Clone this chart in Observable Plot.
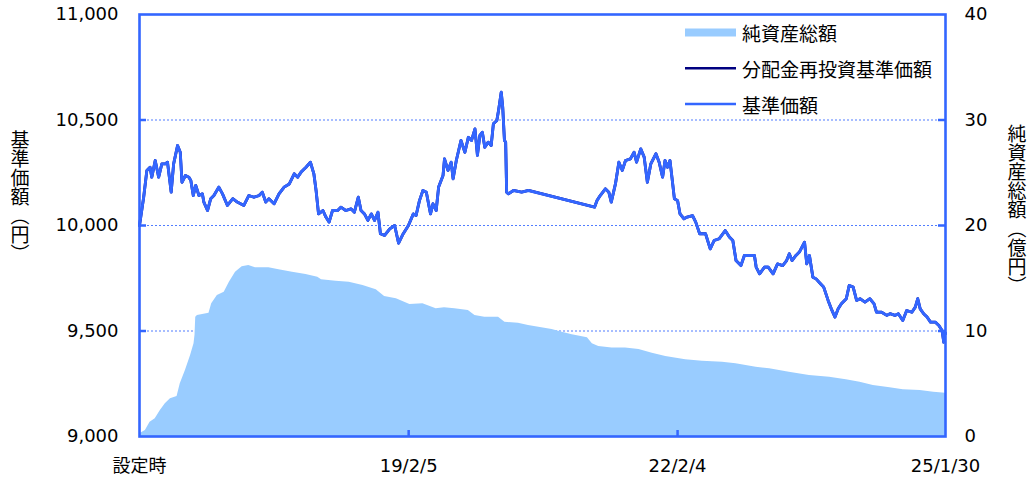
<!DOCTYPE html>
<html>
<head>
<meta charset="utf-8">
<script src="https://cdn.jsdelivr.net/npm/d3@7"></script>
<script src="https://cdn.jsdelivr.net/npm/@observablehq/plot@0.6"></script>
<style>
  html, body { margin: 0; padding: 0; background: #fff; }
  #chart { width: 1036px; height: 485px; }
</style>
</head>
<body>
<div id="chart"></div>
<script>
// ---- Data ----
const navDates = [
  "2016-02-05","2016-02-22","2016-03-06","2016-03-19","2016-03-26","2016-04-09","2016-04-23","2016-05-06","2016-05-20","2016-05-29",
  "2016-06-13","2016-06-23","2016-07-09","2016-07-20","2016-07-27","2016-08-10","2016-08-24","2016-09-01","2016-09-11","2016-09-21",
  "2016-10-04","2016-10-18","2016-10-24","2016-11-08","2016-11-21","2016-12-04","2016-12-24","2017-01-08","2017-01-28","2017-02-19",
  "2017-03-09","2017-04-05","2017-04-25","2017-05-16","2017-06-06","2017-06-19","2017-07-03","2017-07-16","2017-08-06","2017-08-26",
  "2017-09-16","2017-10-07","2017-10-27","2017-11-10","2017-11-24","2017-12-14","2018-01-01","2018-01-15","2018-01-24","2018-02-03",
  "2018-02-21","2018-03-05","2018-03-18","2018-04-01","2018-04-22","2018-05-05","2018-05-25","2018-06-15","2018-06-29","2018-07-15",
  "2018-07-26","2018-08-09","2018-08-23","2018-09-06","2018-09-19","2018-10-03","2018-10-13","2018-10-30","2018-11-20","2018-12-10",
  "2018-12-26","2019-01-14","2019-02-04","2019-02-24","2019-03-07","2019-03-21","2019-04-04","2019-04-18","2019-05-05","2019-05-15",
  "2019-05-28","2019-06-07","2019-06-25","2019-07-01","2019-07-15","2019-07-28","2019-08-05","2019-08-18","2019-09-06","2019-09-22",
  "2019-10-06","2019-10-19","2019-11-02","2019-11-12","2019-11-22","2019-12-02","2019-12-12","2019-12-26","2020-01-07","2020-01-16",
  "2020-01-30","2020-02-06","2020-02-17","2020-02-23","2020-03-01","2020-03-06","2020-03-10","2020-03-17","2020-04-07","2020-05-10",
  "2020-06-07","2021-03-03","2021-03-13","2021-03-26","2021-04-16","2021-04-30","2021-05-10","2021-05-27","2021-06-10","2021-06-24",
  "2021-07-07","2021-07-27","2021-08-11","2021-08-21","2021-09-07","2021-09-21","2021-10-04","2021-10-18","2021-11-08","2021-11-21",
  "2021-12-05","2021-12-15","2021-12-25","2022-01-04","2022-01-12","2022-01-22","2022-02-04","2022-02-14","2022-03-02","2022-03-15",
  "2022-04-06","2022-04-19","2022-05-05","2022-05-29","2022-06-17","2022-07-03","2022-07-23","2022-08-17","2022-09-03","2022-09-17",
  "2022-09-30","2022-10-20","2022-11-03","2022-11-24","2022-12-14","2022-12-21","2023-01-04","2023-01-24","2023-02-08","2023-02-28",
  "2023-03-18","2023-04-08","2023-04-24","2023-05-05","2023-05-16","2023-06-01","2023-06-15","2023-07-06","2023-07-15","2023-07-26",
  "2023-08-09","2023-08-22","2023-09-09","2023-09-22","2023-10-10","2023-10-23","2023-11-07","2023-11-20","2023-12-03","2023-12-23",
  "2024-01-04","2024-01-20","2024-02-03","2024-02-17","2024-03-08","2024-03-28","2024-04-14","2024-04-24","2024-05-15","2024-06-05",
  "2024-06-18","2024-07-08","2024-07-22","2024-08-09","2024-08-25","2024-09-15","2024-09-29","2024-10-09","2024-10-19","2024-11-02",
  "2024-11-16","2024-11-30","2024-12-20","2025-01-03","2025-01-16","2025-01-23","2025-01-27","2025-01-30"
];
const navValues = [
  10000,10134,10261,10276,10229,10308,10229,10292,10292,10300,
  10158,10292,10379,10347,10205,10237,10229,10213,10142,10190,
  10142,10150,10111,10071,10127,10142,10182,10150,10095,10127,
  10111,10095,10142,10134,10142,10158,10111,10127,10103,10150,
  10182,10197,10245,10229,10253,10276,10300,10245,10166,10055,
  10071,10040,10016,10071,10071,10087,10071,10079,10063,10134,
  10071,10055,10024,10055,10024,10063,9961,9953,9984,10000,
  9916,9961,10000,10055,10047,10118,10166,10158,10055,10103,
  10071,10182,10237,10316,10261,10300,10221,10308,10403,10347,
  10418,10403,10458,10332,10427,10442,10371,10395,10379,10482,
  10498,10545,10632,10561,10403,10395,10158,10150,10166,10158,
  10166,10087,10118,10142,10174,10158,10111,10197,10300,10261,
  10308,10316,10347,10300,10363,10324,10205,10292,10340,10300,
  10229,10308,10276,10308,10229,10127,10118,10055,10032,10040,
  10047,10016,9961,9961,9889,9929,9937,9976,9945,9929,
  9834,9810,9858,9858,9858,9803,9771,9803,9803,9771,
  9818,9810,9834,9866,9834,9858,9874,9921,9818,9858,
  9755,9747,9724,9708,9645,9605,9566,9605,9629,9653,
  9716,9708,9645,9653,9637,9653,9629,9589,9589,9574,
  9582,9574,9582,9550,9597,9589,9613,9653,9605,9582,
  9566,9542,9542,9526,9502,9447,9494,9488
];
// 分配金再投資基準価額 (no distributions: identical to 基準価額)
const reinvValues = navValues.slice();

const aumDates = [
  "2016-02-05","2016-02-09","2016-02-29","2016-03-19","2016-04-09","2016-04-30","2016-05-20","2016-06-10","2016-07-07","2016-07-20",
  "2016-08-10","2016-08-31","2016-09-14","2016-09-18","2016-09-21","2016-09-28","2016-11-14","2016-11-25","2016-12-18","2017-01-15",
  "2017-02-05","2017-03-02","2017-03-29","2017-04-25","2017-05-22","2017-07-16","2017-08-26","2017-10-20","2017-12-14","2018-01-31",
  "2018-02-15","2018-04-15","2018-06-08","2018-08-03","2018-09-26","2018-10-30","2018-12-17","2019-02-10","2019-04-04","2019-05-28",
  "2019-07-01","2019-08-12","2019-10-06","2019-11-02","2019-12-12","2020-02-06","2020-03-03","2020-04-27","2020-06-07","2020-07-31",
  "2020-09-11","2020-10-22","2020-12-02","2021-02-02","2021-02-22","2021-03-20","2021-05-13","2021-07-07","2021-08-31","2021-10-24",
  "2021-12-18","2022-02-12","2022-03-09","2022-05-16","2022-08-06","2022-09-30","2022-12-21","2023-02-14","2023-05-05","2023-07-26",
  "2023-10-16","2023-12-23","2024-02-17","2024-04-11","2024-06-18","2024-08-11","2024-10-19","2024-12-13","2025-01-30"
];
const aumValues = [ // 億円
  0.1,0.3,0.57,1.36,1.68,2.46,3.1,3.57,3.79,5.0,
  6.26,7.68,8.79,9.6,11.3,11.47,11.69,12.58,13.36,13.68,
  14.63,15.57,16.1,16.2,15.99,15.99,15.8,15.57,15.36,15.1,
  14.85,14.72,14.63,14.31,13.9,13.27,13.05,12.51,12.58,12.1,
  12.2,12.1,11.94,11.47,11.31,11.31,10.83,10.74,10.52,10.3,
  10.14,9.89,9.64,9.36,8.79,8.53,8.4,8.4,8.25,7.9,
  7.58,7.36,7.27,7.14,7.04,6.89,6.57,6.42,6.1,5.78,
  5.62,5.37,5.15,4.83,4.62,4.43,4.36,4.2,4.1
];

const leftTicks = [9000, 9500, 10000, 10500, 11000];
const rightTicks = [0, 10, 20, 30, 40];
const gridValues = [9500, 10000, 10500];
const xTickDates = ["2016-02-05", "2019-02-05", "2022-02-04", "2025-01-30"];
const xTickLabels = ["設定時", "19/2/5", "22/2/4", "25/1/30"];
const xInnerTickDates = ["2019-02-05", "2022-02-04"];
const legendLabels = ["純資産総額", "分配金再投資基準価額", "基準価額"];
const leftTitle = "基準価額（円）";
const rightTitle = "純資産総額（億円）";

// ---- Build tables ----
if (navDates.length !== navValues.length) throw new Error("nav length mismatch " + navDates.length + " vs " + navValues.length);
if (aumDates.length !== aumValues.length) throw new Error("aum length mismatch " + aumDates.length + " vs " + aumValues.length);

const nav = navDates.map((d, i) => ({date: new Date(d), nav: navValues[i], reinv: reinvValues[i]}));
const aum = aumDates.map((d, i) => ({date: new Date(d), aum: aumValues[i]}));

// right axis (0–40 億円) shares the left scale (9,000–11,000 円)
const yMin = leftTicks[0], yMax = leftTicks[leftTicks.length - 1];
const rMax = rightTicks[rightTicks.length - 1];
const toLeft = v => yMin + v * (yMax - yMin) / rMax;
const fromLeft = v => (v - yMin) * rMax / (yMax - yMin);

const BLUE = "#3366FF", NAVY = "#000080", AREA = "#99CCFF";
const W = 1036, H = 485, ML = 139, MR = 91, MT = 14, MB = 49;
const plotW = W - ML - MR, plotH = H - MT - MB;

const chart = Plot.plot({
  width: W, height: H,
  marginLeft: ML, marginRight: MR, marginTop: MT, marginBottom: MB,
  style: {fontFamily: "'DejaVu Sans', 'Noto Sans CJK JP', sans-serif", fontSize: "18px", color: "#000", background: "#fff", overflow: "visible"},
  x: {type: "utc", domain: [new Date(xTickDates[0]), new Date(xTickDates[xTickDates.length - 1])]},
  y: {domain: [yMin, yMax]},
  marks: [
    Plot.ruleY(gridValues, {stroke: BLUE, strokeWidth: 1.2, strokeDasharray: "2,2", strokeOpacity: 0.85}),
    Plot.areaY(aum, {x: "date", y1: () => yMin, y2: d => toLeft(d.aum), fill: AREA}),
    Plot.lineY(nav, {x: "date", y: "reinv", stroke: NAVY, strokeWidth: 2.8}),
    Plot.lineY(nav, {x: "date", y: "nav", stroke: BLUE, strokeWidth: 2.9, strokeLinejoin: "round"}),
    Plot.tickY(gridValues, {stroke: BLUE, strokeWidth: 2.5, insetRight: plotW - 7}),
    Plot.tickY(gridValues, {stroke: BLUE, strokeWidth: 2.5, insetLeft: plotW - 7}),
    Plot.tickX(xInnerTickDates.map(d => new Date(d)), {stroke: BLUE, strokeWidth: 2.5, insetTop: plotH - 6}),
    Plot.frame({stroke: BLUE, strokeWidth: 2.6}),
    Plot.axisY({anchor: "left", ticks: leftTicks, tickSize: 0, tickPadding: 21, tickFormat: d3.format(","), label: null}),
    Plot.axisY({anchor: "right", ticks: rightTicks.map(toLeft), tickSize: 0, tickPadding: 19, tickFormat: d => String(Math.round(fromLeft(d))), label: null}),
    Plot.axisX({ticks: xTickDates.map(d => new Date(d)), tickSize: 0, tickPadding: 23,
      tickFormat: d => xTickLabels[xTickDates.findIndex(t => +new Date(t) === +d)], label: null})
  ]
});

document.getElementById("chart").appendChild(chart);

// ---- Legend and vertical titles ----
const svg = d3.select(chart);
const lg = svg.append("g").attr("font-family", "'Noto Sans CJK JP', sans-serif").attr("font-size", 19).attr("text-anchor", "start");
const rowsY = [32.5, 68.3, 104];
legendLabels.forEach((lab, i) => {
  const y = rowsY[i];
  if (i === 0) {
    lg.append("rect").attr("x", 685).attr("y", y - 4).attr("width", 51).attr("height", 8).attr("fill", AREA);
  } else {
    lg.append("line").attr("x1", 685).attr("x2", 736).attr("y1", y).attr("y2", y)
      .attr("stroke", i === 1 ? NAVY : BLUE).attr("stroke-width", 2.5);
  }
  lg.append("text").attr("x", 742).attr("y", y).attr("text-anchor", "start")
    .attr("dominant-baseline", "central").attr("fill", "#000").text(lab);
});

function vtitle(txt, x, y) {
  svg.append("text")
    .attr("x", x).attr("y", y)
    .attr("text-anchor", "middle")
    .attr("font-family", "'Noto Sans CJK JP', sans-serif")
    .attr("font-size", 19)
    .attr("fill", "#000")
    .style("writing-mode", "vertical-rl")
    .text(txt);
}
vtitle(leftTitle, 20, 197);
vtitle(rightTitle, 1017, 210);
</script>
</body>
</html>
